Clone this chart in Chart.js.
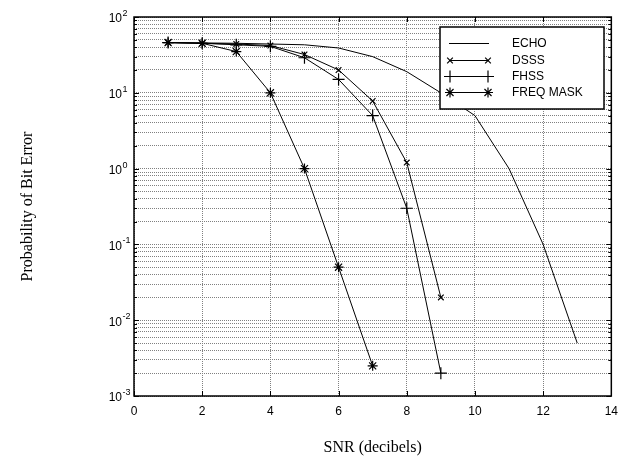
<!DOCTYPE html>
<html>
<head>
<meta charset="utf-8">
<script src="https://cdn.jsdelivr.net/npm/chart.js@4/dist/chart.umd.min.js"></script>
<style>
  html, body { margin: 0; padding: 0; background: #ffffff; }
  #wrap { width: 626px; height: 465px; }
</style>
</head>
<body>
<div id="wrap"><canvas id="c" width="626" height="465"></canvas></div>
<script>
// SNR points (dB) shared by every curve
const snr = [1, 2, 3, 4, 5, 6, 7, 8, 9, 10, 11, 12, 13];

// Probability of bit error for each scheme
const echo     = [46, 45.5, 45, 44, 43, 39, 30, 19, 10, 5, 1, 0.1, 0.005];
const dsss     = [46, 45, 44, 42, 32, 20, 7.8, 1.2, 0.02];
const fhss     = [46, 45, 43, 41, 29, 15, 5, 0.3, 0.002];
const freqMask = [46, 45, 35, 10, 1, 0.05, 0.0025];

const seriesNames = ['ECHO', 'DSSS', 'FHSS', 'FREQ MASK'];

// Axis ticks
const xTicks = [0, 2, 4, 6, 8, 10, 12, 14];
const decadeExps = [-3, -2, -1, 0, 1, 2];

const toPoints = vals => vals.map((v, i) => ({ x: snr[i], y: v }));

const SANS = '"Liberation Sans", Arial, Helvetica, sans-serif';
const SERIF = '"Liberation Serif", "Times New Roman", Times, serif';

// Marker look per series (ECHO has no marker)
const markers = [
  { style: false, radius: 0 },
  { style: 'crossRot', radius: 4 },
  { style: 'cross', radius: 6 },
  { style: 'star', radius: 5 }
];

function drawMarker(ctx, style, r, x, y) {
  if (!style) return;
  ctx.save();
  ctx.strokeStyle = '#000';
  ctx.lineWidth = 1.2;
  ctx.beginPath();
  const d = r * Math.SQRT1_2;
  if (style === 'cross' || style === 'star') {
    ctx.moveTo(x - r, y); ctx.lineTo(x + r, y);
    ctx.moveTo(x, y - r); ctx.lineTo(x, y + r);
  }
  if (style === 'crossRot' || style === 'star') {
    ctx.moveTo(x - d, y - d); ctx.lineTo(x + d, y + d);
    ctx.moveTo(x - d, y + d); ctx.lineTo(x + d, y - d);
  }
  ctx.stroke();
  ctx.restore();
}

// Box, inward ticks, decade labels and the boxed legend
const framePlugin = {
  id: 'frame',
  afterDatasetsDraw(chart) {
    const { ctx, chartArea: a, scales } = chart;
    const xs = scales.x, ys = scales.y;
    ctx.save();
    ctx.strokeStyle = '#000';
    ctx.lineWidth = 1;
    ctx.beginPath();
    xTicks.forEach(t => {
      const px = Math.round(xs.getPixelForValue(t)) + 0.5;
      ctx.moveTo(px, a.bottom); ctx.lineTo(px, a.bottom - 5);
      ctx.moveTo(px, a.top); ctx.lineTo(px, a.top + 5);
    });
    decadeExps.forEach(e => {
      for (let m = 1; m <= 9; m++) {
        const v = m * Math.pow(10, e);
        if (v > 100.0001) continue;
        const py = Math.round(ys.getPixelForValue(v)) + 0.5;
        const len = m === 1 ? 5 : 3;
        ctx.moveTo(a.left, py); ctx.lineTo(a.left + len, py);
        ctx.moveTo(a.right, py); ctx.lineTo(a.right - len, py);
      }
    });
    ctx.stroke();

    ctx.lineWidth = 1.5;
    ctx.strokeRect(a.left, a.top, a.right - a.left, a.bottom - a.top);

    // legend
    const lx = 440, ly = 27, lw = 164, lh = 82;
    ctx.fillStyle = '#fff';
    ctx.fillRect(lx, ly, lw, lh);
    ctx.lineWidth = 1.5;
    ctx.strokeStyle = '#000';
    ctx.strokeRect(lx, ly, lw, lh);
    const rows = [43, 60, 76, 92];
    ctx.font = '12px ' + SANS;
    ctx.textAlign = 'left';
    ctx.textBaseline = 'middle';
    chart.data.datasets.forEach((ds, i) => {
      const y = rows[i];
      ctx.strokeStyle = '#000';
      ctx.lineWidth = 1;
      ctx.beginPath();
      ctx.moveTo(449, y + 0.5); ctx.lineTo(489, y + 0.5);
      ctx.stroke();
      drawMarker(ctx, markers[i].style, markers[i].radius, 450, y + 0.5);
      drawMarker(ctx, markers[i].style, markers[i].radius, 488, y + 0.5);
      ctx.fillStyle = '#000';
      ctx.fillText(ds.label, 512, y + 1);
    });
    ctx.restore();
  },
  afterDraw(chart) {
    const { ctx, scales } = chart;
    const ys = scales.y;
    ctx.save();
    ctx.fillStyle = '#000';
    decadeExps.forEach(e => {
      const py = ys.getPixelForValue(Math.pow(10, e));
      ctx.font = '12px ' + SANS;
      ctx.textAlign = 'right';
      ctx.textBaseline = 'middle';
      ctx.fillText('10', 122, py + 2);
      ctx.font = '9px ' + SANS;
      ctx.textAlign = 'left';
      ctx.textBaseline = 'alphabetic';
      ctx.fillText(String(e), 122.5, py - 1);
    });
    ctx.restore();
  }
};

const seriesData = [echo, dsss, fhss, freqMask];

const datasets = seriesData.map((vals, i) => ({
  label: seriesNames[i],
  data: toPoints(vals),
  borderColor: '#000',
  backgroundColor: '#000',
  borderWidth: 1,
  pointStyle: markers[i].style || 'circle',
  pointRadius: markers[i].radius,
  pointBorderWidth: 1.2,
  pointBorderColor: '#000',
  pointHoverRadius: 0,
  tension: 0,
  fill: false
}));

const GRID_COLOR = '#808080';

new Chart(document.getElementById('c'), {
  type: 'line',
  data: { datasets },
  options: {
    responsive: false,
    animation: false,
    devicePixelRatio: 1,
    layout: { padding: { left: 0, right: 11, top: 17, bottom: 0 } },
    plugins: {
      legend: { display: false },
      tooltip: { enabled: false }
    },
    scales: {
      x: {
        type: 'linear',
        min: 0,
        max: 14,
        afterBuildTicks: s => { s.ticks = xTicks.map(v => ({ value: v })); },
        afterFit: s => { s.height = 69; },
        ticks: {
          color: '#000',
          font: { family: SANS, size: 12 },
          padding: 8,
          autoSkip: false,
          maxRotation: 0
        },
        grid: {
          color: GRID_COLOR,
          lineWidth: 1,
          drawTicks: false
        },
        border: { display: false, dash: [1, 1] },
        title: {
          display: true,
          text: 'SNR (decibels)',
          color: '#000',
          font: { family: SERIF, size: 16 },
          padding: { top: 0, bottom: 8 }
        }
      },
      y: {
        type: 'logarithmic',
        min: 0.001,
        max: 100,
        afterBuildTicks: s => {
          const t = [];
          decadeExps.forEach(e => {
            for (let m = 1; m <= 9; m++) {
              const v = m * Math.pow(10, e);
              if (v <= 100.0001) t.push({ value: v, major: m === 1 });
            }
          });
          s.ticks = t;
        },
        afterFit: s => { s.width = 134; },
        ticks: { display: false, autoSkip: false },
        grid: {
          color: GRID_COLOR,
          lineWidth: 1,
          drawTicks: false
        },
        border: { display: false, dash: [1, 1] },
        title: {
          display: true,
          text: 'Probability of Bit Error',
          color: '#000',
          font: { family: SERIF, size: 16 },
          padding: { top: 18, bottom: 0 }
        }
      }
    }
  },
  plugins: [framePlugin]
});
</script>
</body>
</html>
